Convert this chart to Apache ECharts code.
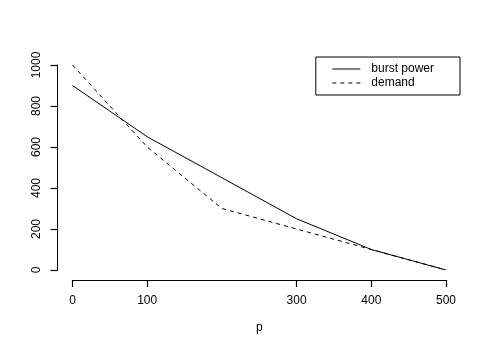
<!DOCTYPE html>
<html>
<head>
<meta charset="utf-8">
<script src="https://cdn.jsdelivr.net/npm/echarts@6/dist/echarts.min.js"></script>
<style>html,body{margin:0;padding:0;background:#fff;}#c{width:490px;height:350px;}</style>
</head>
<body>
<div id="c"></div>
<script>
var pValues = [0, 100, 200, 300, 400, 500];
var burstPower = [900, 650, 450, 250, 100, 0];
var demand = [1000, 600, 300, 200, 100, 0];
var xTicks = [0, 100, 300, 400, 500];
var yTicks = [0, 200, 400, 600, 800, 1000];
var seriesNames = ['burst power', 'demand'];

var chart = echarts.init(document.getElementById('c'), null, {renderer: 'canvas'});
var font = 'Liberation Sans, Arial, Helvetica, sans-serif';
function pairs(ys) { return pValues.map(function (x, i) { return [x, ys[i]]; }); }
chart.setOption({
  animation: false,
  backgroundColor: '#fff',
  textStyle: {fontFamily: font},
  grid: {left: 72.5, right: 44, top: 65, bottom: 80, containLabel: false},
  legend: {
    right: 30, top: 57,
    orient: 'vertical',
    itemWidth: 28, itemHeight: 10, itemGap: 2,
    padding: [6, 26, 6, 16],
    borderColor: '#000', borderWidth: 1, borderRadius: 0,
    itemStyle: {opacity: 0},
    lineStyle: {width: 1},
    textStyle: {fontFamily: font, fontSize: 12, color: '#000', padding: [0, 0, 0, 6]},
    data: seriesNames
  },
  xAxis: {
    type: 'value', min: 0, max: 500, offset: 10, position: 'bottom',
    name: 'p', nameLocation: 'middle', nameGap: 42,
    nameTextStyle: {fontFamily: font, fontSize: 12, color: '#000'},
    splitLine: {show: false},
    axisLine: {show: true, onZero: false, lineStyle: {color: '#000', width: 1}},
    axisTick: {show: true, inside: false, length: 7, lineStyle: {color: '#000', width: 1.2}, customValues: xTicks},
    axisLabel: {fontFamily: font, fontSize: 12, color: '#000', margin: 15, customValues: xTicks,
      formatter: function (v) { return String(v); }}
  },
  yAxis: {
    type: 'value', min: 0, max: 1000, interval: 200, offset: 15, position: 'left',
    splitLine: {show: false},
    axisLine: {show: true, onZero: false, lineStyle: {color: '#000', width: 1}},
    axisTick: {show: true, inside: false, length: 7, lineStyle: {color: '#000', width: 1.2}},
    axisLabel: {fontFamily: font, fontSize: 12, color: '#000', margin: 15, rotate: 90,
      formatter: function (v) { return String(v); }}
  },
  series: [
    {name: seriesNames[0], type: 'line', data: pairs(burstPower), symbol: 'none',
     lineStyle: {color: '#000', width: 1, type: 'solid'}, itemStyle: {color: '#000'}},
    {name: seriesNames[1], type: 'line', data: pairs(demand), symbol: 'none',
     lineStyle: {color: '#000', width: 1, type: [4, 4]}, itemStyle: {color: '#000'}}
  ]
});
</script>
</body>
</html>
